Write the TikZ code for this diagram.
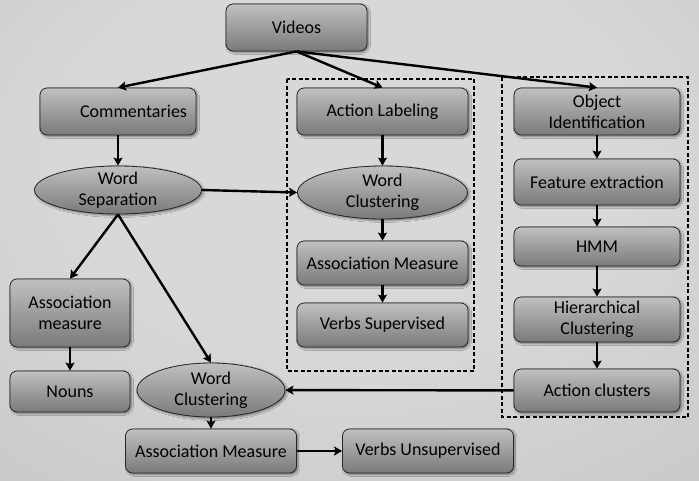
\documentclass[tikz,border=0pt]{standalone}
\usepackage{fontspec}
\setmainfont{Carlito}
\usetikzlibrary{shapes, arrows.meta, positioning, shadows.blur}
\definecolor{bgin}{RGB}{216,216,216}
\definecolor{bgout}{RGB}{178,178,178}
\definecolor{boxtop}{RGB}{192,192,192}
\definecolor{boxbottom}{RGB}{122,122,122}
\pgfdeclareradialshading{backdrop}{\pgfpoint{0bp}{12bp}}{color(0bp)=(bgin); color(20bp)=(bgin); color(72bp)=(bgout)}
\tikzstyle{process} = [
    rectangle,
    rounded corners=7pt,
    draw=black!85,
    line width=0.8pt,
    top color=boxtop,
    bottom color=boxbottom,
    blur shadow={shadow xshift=1.5pt, shadow yshift=-1.5pt, shadow blur steps=6, shadow opacity=45},
    minimum width=166pt,
    minimum height=46pt,
    inner sep=2pt,
    align=center,
    font=\fontsize{18}{21}\selectfont
]
\tikzstyle{cluster} = [
    ellipse,
    draw=black!85,
    line width=0.8pt,
    top color=boxtop,
    bottom color=boxbottom,
    blur shadow={shadow xshift=1.5pt, shadow yshift=-1.5pt, shadow blur steps=6, shadow opacity=45},
    inner xsep=0pt,
    inner ysep=-3pt,
    align=center,
    font=\fontsize{18}{21}\selectfont
]
\tikzstyle{flow} = [
    line width=2.4pt,
    -{Stealth[length=8pt, width=9pt, inset=1.5pt]}
]
\tikzstyle{group} = [
    draw=black,
    line width=1.6pt,
    dash pattern=on 4pt off 2.5pt
]

\begin{document}
\begin{tikzpicture}[x=1pt, y=1pt, node distance=70pt]
    \shade[shading=backdrop] (0,0) rectangle (699,-480);
    \useasboundingbox (0,0) rectangle (699,-480);

    % dashed groups
    \draw[group] (287,-79) rectangle (474,-371);
    \draw[group] (502,-77) rectangle (688,-417);

    \node[process, minimum width=141pt, minimum height=47pt] (videos) at (296.5,-27.5) {Videos};
    \node[process, minimum width=156pt, minimum height=47pt, text width=138pt, inner xsep=9pt, align=right] (comments) at (118,-111.5) {Commentaries};
    \node[cluster, minimum width=167pt, minimum height=48pt] (wordsep) [below of=comments, node distance=78.5pt] {Word\\Separation};

    \node[process, minimum width=171pt, minimum height=47pt] (actlabel) at (382.5,-111.5) {Action Labeling};
    \node[cluster, minimum width=170pt, minimum height=53pt] (wordclusta) [below of=actlabel, node distance=81pt] {Word\\Clustering};
    \node[process, minimum width=171pt, minimum height=44pt] (assocsup) [below of=wordclusta, node distance=70.5pt] {Association Measure};
    \node[process, minimum width=171pt, minimum height=44pt] (verbsup) [below of=assocsup, node distance=62pt] {Verbs Supervised};

    \node[process, minimum height=47pt] (objid) at (597,-111.5) {Object\\Identification};
    \node[process] (features) [below of=objid, node distance=70.5pt] {Feature extraction};
    \node[process, minimum height=39pt] (hmm) [below of=features, node distance=64.5pt] {HMM};
    \node[process, minimum height=45pt] (hierarchy) [below of=hmm, node distance=73pt] {Hierarchical\\Clustering};
    \node[process, minimum height=43pt] (actclusters) [below of=hierarchy, node distance=71pt] {Action clusters};

    \node[process, minimum width=120pt, minimum height=68pt] (assocnoun) at (70,-313) {Association\\measure};
    \node[process, minimum width=120pt, minimum height=41pt] (nouns) [below of=assocnoun, node distance=78.5pt] {Nouns};
    \node[cluster, minimum width=148pt, minimum height=54pt] (wordclustb) at (211,-390) {Word\\Clustering};
    \node[process, minimum width=171pt, minimum height=44pt] (assocunsup) [below of=wordclustb, node distance=61pt] {Association Measure};
    \node[process, minimum width=171pt, minimum height=44pt] (verbunsup) [right of=assocunsup, node distance=217pt] {Verbs Unsupervised};

    % connectors
    \draw[flow] (videos.south) -- (comments.north);
    \draw[flow] (videos.south) -- (actlabel.north);
    \draw[flow] (videos.south) -- (objid.north);
    \draw[flow] (comments.south) -- (wordsep.north);
    \draw[flow] (wordsep.east) -- (wordclusta.west);
    \draw[flow] (wordsep.south) -- (assocnoun.north);
    \draw[flow] (wordsep.south) -- (wordclustb.north);
    \draw[flow] (assocnoun) -- (nouns);
    \draw[flow] (actlabel) -- (wordclusta);
    \draw[flow] (wordclusta) -- (assocsup);
    \draw[flow] (assocsup) -- (verbsup);
    \draw[flow] (objid) -- (features);
    \draw[flow] (features) -- (hmm);
    \draw[flow] (hmm) -- (hierarchy);
    \draw[flow] (hierarchy) -- (actclusters);
    \draw[flow] (actclusters) -- (wordclustb);
    \draw[flow] (wordclustb) -- (assocunsup);
    \draw[flow] (assocunsup) -- (verbunsup);
\end{tikzpicture}
\end{document}
